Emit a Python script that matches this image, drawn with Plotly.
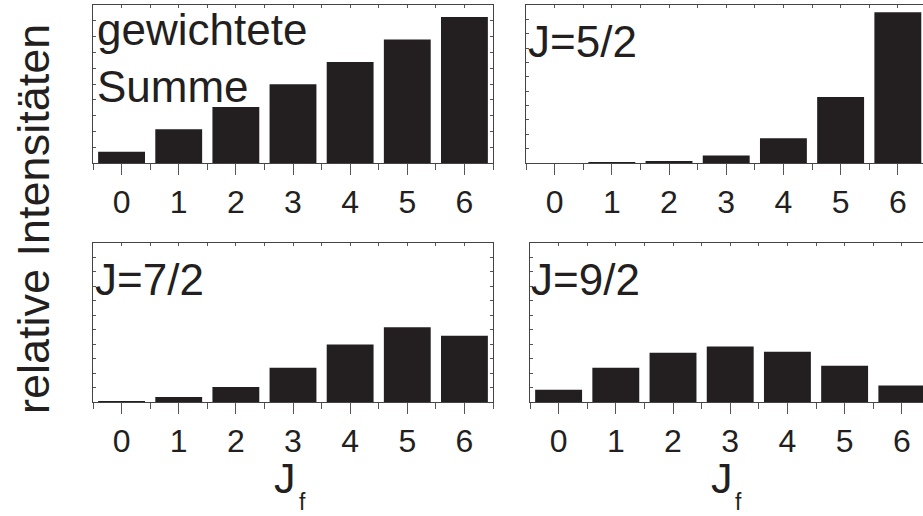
import plotly.graph_objects as go

# ---- data ----
jf = [0, 1, 2, 3, 4, 5, 6]
tick_labels = ["0", "1", "2", "3", "4", "5", "6"]
gewichtete_summe = [0.71, 2.14, 3.55, 4.98, 6.39, 7.82, 9.24]
j_5_2 = [0.0, 0.03, 0.10, 0.53, 1.73, 4.60, 10.50]
j_7_2 = [0.04, 0.35, 1.04, 2.37, 3.98, 5.18, 4.58]
j_9_2 = [0.85, 2.37, 3.41, 3.84, 3.48, 2.51, 1.15]
panel_labels = ["gewichtete<br>Summe", "J=5/2", "J=7/2", "J=9/2"]
y_title = "relative Intensitäten"

W, H = 923, 516
INK = "#231f20"
FONT = "Liberation Sans, Arial, Helvetica, sans-serif"

def px_x(p):
    return p / W

def px_y(p):
    return 1 - p / H

# panel geometry (pixels): left, right, top, bottom
panels = [
    dict(l=93, r=493, t=5, b=163, xr=[-0.5, 6.5], yr=[0, 10], data=gewichtete_summe, right=True),
    dict(l=526, r=923, t=5, b=163, xr=[-0.5, 6.44], yr=[0, 11], data=j_5_2, right=False),
    dict(l=93, r=493, t=243, b=402, xr=[-0.5, 6.5], yr=[0, 11], data=j_7_2, right=True),
    dict(l=530, r=923, t=243, b=402, xr=[-0.5, 6.37], yr=[0, 11], data=j_9_2, right=False),
]

fig = go.Figure()
layout = dict(
    width=W, height=H, margin=dict(l=0, r=0, t=0, b=0),
    paper_bgcolor="white", plot_bgcolor="white", showlegend=False,
    font=dict(family=FONT, color=INK),
    bargap=0.18,
)

minor_vals = [v - 0.5 for v in jf] + [jf[-1] + 0.5]
all_top = sorted(jf + minor_vals)

for i, p in enumerate(panels):
    n = i + 1
    xa = "x" if n == 1 else f"x{n}"
    ya = "y" if n == 1 else f"y{n}"
    xkey = "xaxis" if n == 1 else f"xaxis{n}"
    ykey = "yaxis" if n == 1 else f"yaxis{n}"
    fig.add_trace(go.Bar(x=jf, y=p["data"], xaxis=xa, yaxis=ya,
                         marker=dict(color=INK, line=dict(width=0)),
                         hoverinfo="skip"))
    xd = [px_x(p["l"]), px_x(p["r"])]
    yd = [px_y(p["b"]), px_y(p["t"])]
    layout[xkey] = dict(
        domain=xd, range=p["xr"], anchor=ya,
        tickmode="array", tickvals=jf, ticktext=tick_labels,
        ticks="outside", ticklen=11, tickwidth=1, tickcolor="#555",
        minor=dict(tickmode="array", tickvals=minor_vals, ticks="outside",
                   ticklen=6, tickwidth=1, tickcolor="#555", showgrid=False),
        showline=True, linecolor="#444", linewidth=1, mirror=True,
        showgrid=False, zeroline=False,
        tickfont=dict(size=32, color=INK, family=FONT),
        fixedrange=True,
    )
    layout[ykey] = dict(
        domain=yd, range=p["yr"], anchor=xa,
        tickmode="linear", tick0=0, dtick=1,
        ticks="inside", ticklen=3, tickwidth=1, tickcolor="#555",
        showticklabels=False,
        showline=True, linecolor="#444", linewidth=1, mirror=p["right"],
        showgrid=False, zeroline=False, fixedrange=True,
    )
    # overlay top axis with inward ticks
    m = n + 4
    layout[f"xaxis{m}"] = dict(
        overlaying=xa, side="top", anchor=ya, range=p["xr"],
        tickmode="array", tickvals=all_top, ticks="inside", ticklen=3,
        tickwidth=1, tickcolor="#555", showticklabels=False,
        showline=False, showgrid=False, zeroline=False, fixedrange=True,
    )
    fig.add_trace(go.Scatter(x=[None], y=[None], xaxis=f"x{m}", yaxis=ya,
                             mode="markers", hoverinfo="skip"))
    if p["right"]:
        layout[f"yaxis{m}"] = dict(
            overlaying=ya, side="right", anchor=xa, range=p["yr"],
            tickmode="linear", tick0=0, dtick=1, ticks="inside", ticklen=3,
            tickwidth=1, tickcolor="#555", showticklabels=False,
            showline=False, showgrid=False, zeroline=False, fixedrange=True,
        )
        fig.add_trace(go.Scatter(x=[None], y=[None], xaxis=xa, yaxis=f"y{m}",
                                 mode="markers", hoverinfo="skip"))

annotations = []
# panel labels
label_pos = [(95, 3), (526, 15), (93, 253), (529, 253)]
for (lx, ly), txt in zip(label_pos, panel_labels):
    annotations.append(dict(
        x=px_x(lx), y=px_y(ly), xref="paper", yref="paper",
        xanchor="left", yanchor="top", text=txt, showarrow=False,
        font=dict(size=44, color=INK, family=FONT), align="left",
    ))
# x titles J_f
for jx, fx in [(285, 302), (722, 738)]:
    annotations.append(dict(
        x=px_x(jx), y=px_y(453), xref="paper", yref="paper",
        xanchor="center", yanchor="top", text="J", showarrow=False,
        borderpad=0, font=dict(size=43, color=INK, family=FONT),
    ))
    annotations.append(dict(
        x=px_x(fx), y=px_y(516), xref="paper", yref="paper",
        xanchor="center", yanchor="bottom", text="f", showarrow=False,
        borderpad=0, font=dict(size=23, color=INK, family=FONT),
    ))
# y title
annotations.append(dict(
    x=px_x(33), y=px_y(219), xref="paper", yref="paper",
    xanchor="center", yanchor="middle", text=y_title, showarrow=False,
    textangle=-90, font=dict(size=45, color=INK, family=FONT),
))
layout["annotations"] = annotations

fig.update_layout(**layout)
fig.write_html("out.html")
